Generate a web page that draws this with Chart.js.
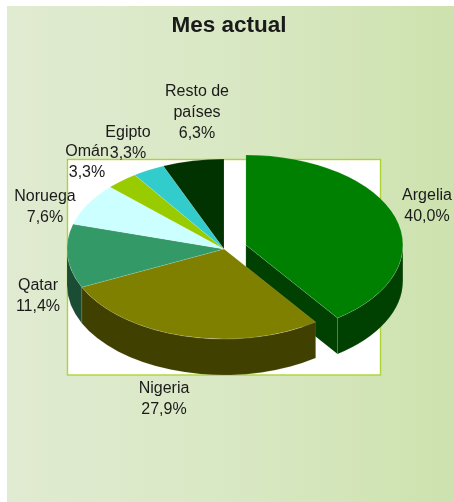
<!DOCTYPE html>
<html>
<head>
<meta charset="utf-8">
<style>
    html, body { margin: 0; padding: 0; background: #fff; }
    #chartBox { position: relative; width: 454px; height: 502px; }
</style>
<script src="https://cdn.jsdelivr.net/npm/chart.js@4"></script>
</head>
<body>
<div id="chartBox"><canvas id="pie3d"></canvas></div>
<script>
const chartTitle = 'Mes actual';
const categories = ['Argelia', 'Nigeria', 'Qatar', 'Noruega', 'Omán', 'Egipto', ['Resto de', 'países']];
const shares = [40.0, 27.9, 11.4, 7.6, 3.3, 3.3, 6.3];
const topColors = ['#008000', '#808000', '#339966', '#ccffff', '#99cc00', '#33cccc', '#003300'];
const sideColors = ['#004000', '#404000', '#1a4d33', '#668080', '#4d6600', '#1a6666', '#001a00'];
const explode = [23, 0, 0, 0, 0, 0, 0];

// label centres, hand placed like in the original
const labelSpots = [[427, 196], [164, 389], [38, 286], [45, 197], [87, 152], [128, 133], [197, 92]];

const squash = 90 / 157;
const depth = 36;
const plotBox = { left: 67.5, top: 159.5, right: 380.5, bottom: 375 };

const fmtShare = v => v.toFixed(1).replace('.', ',') + '%';

const pie3dPlugin = {
    id: 'pie3d',
    afterDatasetUpdate(chart) {
        chart.getDatasetMeta(0).data.forEach((arc, i) => {
            const mid = (arc.startAngle + arc.endAngle) / 2;
            arc.x += Math.cos(mid) * explode[i];
            arc.y += Math.sin(mid) * explode[i];
        });
    },
    beforeDraw(chart) {
        const { ctx, width, height } = chart;
        const bg = ctx.createLinearGradient(7, 0, width, 0);
        bg.addColorStop(0, '#e0ebd1');
        bg.addColorStop(0.5, '#d9e8c4');
        bg.addColorStop(1, '#cde2ae');
        ctx.save();
        ctx.fillStyle = bg;
        ctx.fillRect(7, 6, width - 7, height - 6);
        ctx.fillStyle = '#fff';
        ctx.strokeStyle = '#add436';
        ctx.lineWidth = 1.4;
        const w = plotBox.right - plotBox.left, h = plotBox.bottom - plotBox.top;
        ctx.fillRect(plotBox.left, plotBox.top, w, h);
        ctx.strokeRect(plotBox.left, plotBox.top, w, h);
        ctx.restore();
    },
    beforeDatasetsDraw(chart) {
        const { ctx, chartArea } = chart;
        const cy = (chartArea.top + chartArea.bottom) / 2;
        const flatY = y => cy + (y - cy) * squash;
        ctx.save();
        chart.getDatasetMeta(0).data.forEach((arc, i) => {
            const r = arc.outerRadius, sy = flatY(arc.y);
            ctx.fillStyle = sideColors[i];
            ctx.strokeStyle = 'rgba(255,255,255,0.18)';
            ctx.lineWidth = 0.5;
            // cut face of the pulled out slice
            if (explode[i] > 0) {
                const ex = arc.x + Math.cos(arc.endAngle) * r, ey = sy + Math.sin(arc.endAngle) * r * squash;
                ctx.beginPath();
                ctx.moveTo(arc.x, sy);
                ctx.lineTo(ex, ey);
                ctx.lineTo(ex, ey + depth);
                ctx.lineTo(arc.x, sy + depth);
                ctx.closePath();
                ctx.fill();
                ctx.stroke();
            }
            // only the front half of the rim shows
            const a0 = Math.max(arc.startAngle, 0), a1 = Math.min(arc.endAngle, Math.PI);
            if (a1 <= a0) return;
            ctx.beginPath();
            ctx.ellipse(arc.x, sy, r, r * squash, 0, a0, a1);
            ctx.ellipse(arc.x, sy + depth, r, r * squash, 0, a1, a0, true);
            ctx.closePath();
            ctx.fill();
            ctx.stroke();
        });
        ctx.restore();
        // flatten the library's own arcs
        ctx.save();
        ctx.translate(0, cy);
        ctx.scale(1, squash);
        ctx.translate(0, -cy);
    },
    afterDatasetsDraw(chart) {
        chart.ctx.restore();
    },
    afterDraw(chart) {
        const { ctx } = chart;
        ctx.save();
        ctx.textAlign = 'center';
        ctx.textBaseline = 'middle';
        ctx.fillStyle = '#1a1a1a';
        ctx.font = 'bold 22.5px "Liberation Sans", Arial, sans-serif';
        ctx.fillText(chartTitle, 229, 26);
        ctx.font = '16px "Liberation Sans", Arial, sans-serif';
        categories.forEach((cat, i) => {
            const lines = [].concat(cat, fmtShare(shares[i]));
            lines.forEach((line, n) => {
                ctx.fillText(line, labelSpots[i][0], labelSpots[i][1] + n * 21);
            });
        });
        ctx.restore();
    }
};

new Chart(document.getElementById('pie3d'), {
    type: 'pie',
    data: {
        labels: categories,
        datasets: [{
            data: shares,
            backgroundColor: topColors,
            borderColor: 'rgba(255,255,255,0.25)',
            borderWidth: 0.7
        }]
    },
    options: {
        responsive: true,
        maintainAspectRatio: false,
        animation: false,
        radius: 157,
        layout: { padding: { right: 6, bottom: 4 } },
        plugins: {
            legend: { display: false },
            tooltip: { enabled: false }
        }
    },
    plugins: [pie3dPlugin]
});
</script>
</body>
</html>
